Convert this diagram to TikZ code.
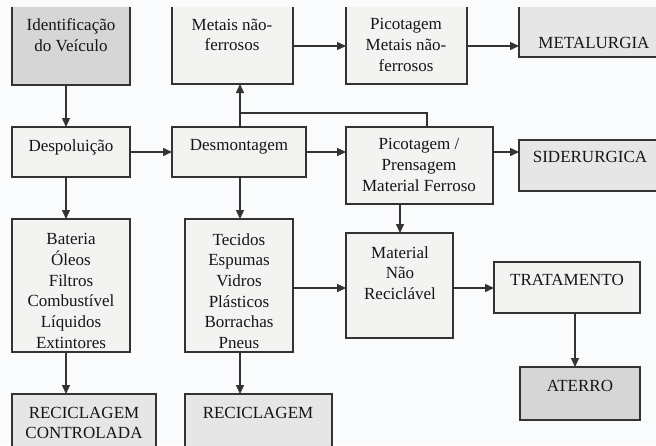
\documentclass[tikz,border=0pt]{standalone}
\usepackage{fontspec}
\setmainfont{Liberation Serif}
\usetikzlibrary{arrows.meta}
\definecolor{bg}{HTML}{FAFBFC}
\definecolor{lightbox}{HTML}{F3F3F1}
\definecolor{graybox}{HTML}{E6E6E6}
\definecolor{darkbox}{HTML}{D6D6D6}
\definecolor{edge}{HTML}{333333}
\definecolor{ink}{HTML}{151515}
\tikzset{
  boxbase/.style={draw=edge, line width=1.5pt, inner sep=0pt, outer sep=0pt},
  lbox/.style={boxbase, fill=lightbox},
  gbox/.style={boxbase, fill=graybox},
  dbox/.style={boxbase, fill=darkbox},
  txt/.style={align=center, text=ink, inner sep=0pt, font=\fontsize{17}{20.7}\selectfont},
  arr/.style={draw=edge, line width=1.4pt, -{Triangle[length=9pt,width=8pt]}},
  ln/.style={draw=edge, line width=1.4pt},
}
\newcommand{\bx}[6]{% style, name, x1, y1, x2, y2
  \path[#1] (#3,#4) rectangle (#5,#6);
  \coordinate (#2-nw) at (#3,#4);
  \coordinate (#2-se) at (#5,#6);
  \coordinate (#2-n) at ({(#3+#5)/2},#4);
  \coordinate (#2-s) at ({(#3+#5)/2},#6);
  \coordinate (#2-w) at (#3,{(#4+#6)/2});
  \coordinate (#2-e) at (#5,{(#4+#6)/2});
}
\begin{document}
\begin{tikzpicture}[x=1pt,y=-1pt]
\useasboundingbox (0,0) rectangle (656,445);
\fill[bg] (0,0) rectangle (656,445);
\begin{scope}
\clip (0,7) rectangle (656,445);
% boxes
\bx{dbox}{ident}{12}{-5}{130}{85}
\bx{lbox}{metais}{172}{-5}{293}{84}
\bx{lbox}{picnf}{346}{-5}{467}{84}
\bx{gbox}{metal}{519}{-5}{672}{57}
\bx{lbox}{desp}{12}{127}{130}{177}
\bx{lbox}{desm}{172}{127}{306}{177}
\bx{lbox}{picf}{346}{127}{493}{204}
\bx{gbox}{sider}{519}{140}{664}{191}
\bx{lbox}{bat}{12}{219}{130}{352}
\bx{lbox}{tec}{185}{219}{293}{352}
\bx{lbox}{mnr}{346}{233}{453}{338}
\bx{lbox}{trat}{494}{262}{640}{313}
\bx{dbox}{aterro}{520}{367}{640}{420}
\bx{gbox}{recc}{12}{394}{156}{460}
\bx{gbox}{rec}{185}{394}{332}{460}
\end{scope}
% texts
\node[txt] (t-ident) at (71,35) {Identificação\\do Veículo};
\node[txt] (t-metais) at (232,35) {Metais não-\\ferrosos};
\node[txt] (t-picnf) at (406,45) {Picotagem\\Metais não-\\ferrosos};
\node[txt] (t-metal) at (594,43) {METALURGIA};
\node[txt] (t-desp) at (71,147) {Despoluição};
\node[txt] (t-desm) at (239,147) {Desmontagem};
\node[txt] (t-picf) at (419,165) {Picotagem /\\Prensagem\\Material Ferroso};
\node[txt] (t-sider) at (590,157) {SIDERURGICA};
\node[txt] (t-bat) at (71,291) {Bateria\\Óleos\\Filtros\\Combustível\\Líquidos\\Extintores};
\node[txt] (t-tec) at (239,291) {Tecidos\\Espumas\\Vidros\\Plásticos\\Borrachas\\Pneus};
\node[txt] (t-mnr) at (400,273) {Material\\Não\\Reciclável};
\node[txt] (t-trat) at (567,280) {TRATAMENTO};
\node[txt] (t-aterro) at (580,386) {ATERRO};
\node[txt] (t-recc) at (84,423) {RECICLAGEM\\CONTROLADA};
\node[txt] (t-rec) at (258,413) {RECICLAGEM};
% helper coordinates for connector lines
\coordinate (c1) at (66,0);
\coordinate (c2) at (240,0);
\coordinate (c3) at (427,0);
\coordinate (c4) at (400,0);
\coordinate (c5) at (575,0);
\coordinate (r1) at (0,46);
\coordinate (r2) at (0,152);
\coordinate (r3) at (0,288);
\coordinate (rb) at (0,113);
% connectors
\draw[arr] (ident-s -| c1) -- (desp-n -| c1);
\draw[arr] (desp-e |- r2) -- (desm-w |- r2);
\draw[arr] (desm-n -| c2) -- (metais-s -| c2);
\draw[ln] (rb -| c2) -- (rb -| c3) -- (picf-n -| c3);
\draw[arr] (metais-e |- r1) -- (picnf-nw |- r1);
\draw[arr] (picnf-se |- r1) -- (metal-nw |- r1);
\draw[arr] (desm-e |- r2) -- (picf-w |- r2);
\draw[arr] (picf-e |- r2) -- (sider-w |- r2);
\draw[arr] (picf-s -| c4) -- (mnr-n -| c4);
\draw[arr] (desp-s -| c1) -- (bat-n -| c1);
\draw[arr] (desm-s -| c2) -- (tec-n -| c2);
\draw[arr] (tec-e |- r3) -- (mnr-w |- r3);
\draw[arr] (mnr-e |- r3) -- (trat-w |- r3);
\draw[arr] (trat-s -| c5) -- (aterro-n -| c5);
\draw[arr] (bat-s -| c1) -- (recc-n -| c1);
\draw[arr] (tec-s -| c2) -- (rec-n -| c2);
\end{tikzpicture}
\end{document}
